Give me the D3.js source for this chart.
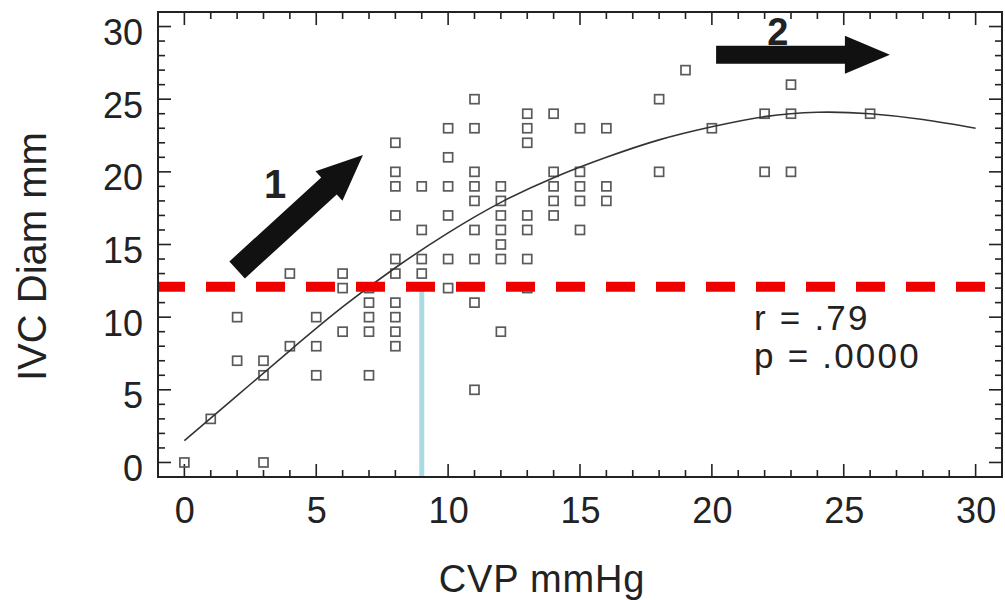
<!DOCTYPE html>
<html>
<head>
<meta charset="utf-8">
<script src="https://cdn.jsdelivr.net/npm/d3@7"></script>
<style>
  html, body { margin: 0; padding: 0; background: #fff; }
  svg { display: block; }
  text { font-family: "Liberation Sans", Arial, Helvetica, sans-serif; fill: #222; }
</style>
</head>
<body>
<svg id="chart" width="1005" height="600"></svg>
<script>
// ---- data ----
const cvp = [0,1,2,2,3,3,3,4,4,5,5,5,6,6,6,7,7,7,7,7,
  8,8,8,8,8,8,8,8,8,8,
  9,9,9,9,
  10,10,10,10,10,10,
  11,11,11,11,11,11,11,11,11,
  12,12,12,12,12,12,12,
  13,13,13,13,13,13,13,
  14,14,14,14,14,
  15,15,15,15,15,
  16,16,16,
  18,18,19,20,22,22,23,23,23,26];
const ivcDiam = [0,3,10,7,7,6,0,13,8,10,8,6,13,12,9,12,11,10,9,6,
  22,20,19,17,14,13,11,10,9,8,
  19,16,14,13,
  23,21,19,17,14,12,
  25,23,20,19,18,16,14,11,5,
  19,18,17,16,15,14,9,
  24,23,22,17,16,14,12,
  24,20,19,18,17,
  23,20,19,18,16,
  23,19,18,
  25,20,27,23,24,20,26,24,20,24];
// fitted curve
const fitX = [0,2,4,6,8,10,12,14,16,18,20,22,24,26,28,30];
const fitY = [1.5,4.6,7.7,10.7,13.4,15.8,17.9,19.6,21.0,22.2,23.1,23.8,24.1,24.0,23.6,23.0];
const xTicks = [0,5,10,15,20,25,30];
const yTicks = [0,5,10,15,20,25,30];
const cutoffIVC = 12.1;   // red dashed threshold
const cutoffCVP = 9;      // cyan vertical
const statLines = ["r = .79", "p = .0000"];
const xTitle = "CVP mmHg";
const yTitle = "IVC Diam mm";

// ---- layout ----
const svg = d3.select("#chart");
const L = 158, R = 1002, T = 12, B = 477;
const x = d3.scaleLinear().domain([-1, 31]).range([L, R]);
const y = d3.scaleLinear().domain([-1, 31]).range([B, T]);

const defs = svg.append("defs");
defs.append("clipPath").attr("id", "plotclip")
  .append("rect").attr("x", L).attr("y", T).attr("width", R - L).attr("height", B - T);

// ---- ticks (inward on all 4 sides) ----
const minor = d3.range(-1, 32, 1);
const tickG = svg.append("g").attr("stroke", "#222").attr("stroke-width", 1.6);
const majLen = 13, minLen = 7;
minor.forEach(v => {
  const len = (v % 5 === 0 && v >= 0 && v <= 30) ? majLen : minLen;
  if (v > -1 && v < 31) {
    tickG.append("line").attr("x1", x(v)).attr("x2", x(v)).attr("y1", B).attr("y2", B - len);
    tickG.append("line").attr("x1", x(v)).attr("x2", x(v)).attr("y1", T).attr("y2", T + len);
    tickG.append("line").attr("y1", y(v)).attr("y2", y(v)).attr("x1", L).attr("x2", L + len);
    tickG.append("line").attr("y1", y(v)).attr("y2", y(v)).attr("x1", R).attr("x2", R - len);
  }
});

// tick labels via axes (ticks hidden)
const xAxis = d3.axisBottom(x).tickValues(xTicks).tickSize(0).tickPadding(0).tickFormat(d3.format("d"));
const gx = svg.append("g").attr("transform", `translate(0,${B})`).call(xAxis);
gx.select(".domain").remove();
gx.selectAll("text").attr("font-size", 36).attr("dy", "1.28em").attr("fill", "#222")
  .style("font-family", "'Liberation Sans', Arial, sans-serif");

const yAxis = d3.axisLeft(y).tickValues(yTicks).tickSize(0).tickPadding(15).tickFormat(d3.format("d"));
const gy = svg.append("g").attr("transform", `translate(${L},0)`).call(yAxis);
gy.select(".domain").remove();
gy.selectAll("text").attr("font-size", 36).attr("dy", "0.5em").attr("fill", "#222")
  .style("font-family", "'Liberation Sans', Arial, sans-serif");

// ---- plot contents ----
const plot = svg.append("g").attr("clip-path", "url(#plotclip)");

// points
const pts = cvp.map((c, i) => ({ c, v: ivcDiam[i] }));
const S = 9;
plot.append("g").selectAll("rect").data(pts).join("rect")
  .attr("x", d => x(d.c) - S / 2).attr("y", d => y(d.v) - S / 2)
  .attr("width", S).attr("height", S)
  .attr("fill", "none").attr("stroke", "#5a5a5a").attr("stroke-width", 1.7);

// fit curve
const curve = d3.line().x((d, i) => x(fitX[i])).y(d => y(d)).curve(d3.curveNatural);
plot.append("path").attr("d", curve(fitY))
  .attr("fill", "none").attr("stroke", "#333").attr("stroke-width", 1.6);

// cyan vertical
plot.append("line")
  .attr("x1", x(cutoffCVP)).attr("x2", x(cutoffCVP))
  .attr("y1", y(cutoffIVC)).attr("y2", B)
  .attr("stroke", "#a8dce2").attr("stroke-width", 5);

// red dashed threshold
plot.append("line")
  .attr("x1", L - 2).attr("x2", R + 2)
  .attr("y1", y(cutoffIVC)).attr("y2", y(cutoffIVC))
  .attr("stroke", "#ee0000").attr("stroke-width", 10)
  .attr("stroke-dasharray", "29,21");

// ---- arrows ----
function arrow(x0, y0, x1, y1, shaftW, headW, headL) {
  const px0 = x(x0), py0 = y(y0), px1 = x(x1), py1 = y(y1);
  const len = Math.hypot(px1 - px0, py1 - py0);
  const ang = Math.atan2(py1 - py0, px1 - px0) * 180 / Math.PI;
  const sl = len - headL;
  const p = [[0, -shaftW / 2], [sl, -shaftW / 2], [sl, -headW / 2], [len, 0],
             [sl, headW / 2], [sl, shaftW / 2], [0, shaftW / 2]];
  svg.append("polygon")
    .attr("points", p.map(q => q.join(",")).join(" "))
    .attr("transform", `translate(${px0},${py0}) rotate(${ang})`)
    .attr("fill", "#111");
}
arrow(2.0, 13.25, 6.77, 21.16, 23, 40, 46);
arrow(20.16, 28.05, 26.75, 28.05, 18, 38, 45);

svg.append("text").attr("x", x(3.44)).attr("y", y(18.2))
  .attr("text-anchor", "middle").attr("font-size", 40).attr("font-weight", "bold").text("1");
svg.append("text").attr("x", x(22.5)).attr("y", y(28.7))
  .attr("text-anchor", "middle").attr("font-size", 38).attr("font-weight", "bold").text("2");

// stats
svg.append("text").attr("x", x(21.6)).attr("y", y(9.1)).attr("font-size", 35)
  .attr("letter-spacing", 2.2).text(statLines[0]);
svg.append("text").attr("x", x(21.6)).attr("y", y(6.5)).attr("font-size", 35)
  .attr("letter-spacing", 2.2).text(statLines[1]);

// frame
svg.append("rect").attr("x", L).attr("y", T).attr("width", R - L).attr("height", B - T)
  .attr("fill", "none").attr("stroke", "#222").attr("stroke-width", 2);

// axis titles
svg.append("text").attr("x", 542).attr("y", 592)
  .attr("text-anchor", "middle").attr("font-size", 38).attr("letter-spacing", 0.8).text(xTitle);
svg.append("text").attr("transform", `translate(46,381) rotate(-90)`)
  .attr("text-anchor", "start").attr("font-size", 40).text(yTitle);
</script>
</body>
</html>
